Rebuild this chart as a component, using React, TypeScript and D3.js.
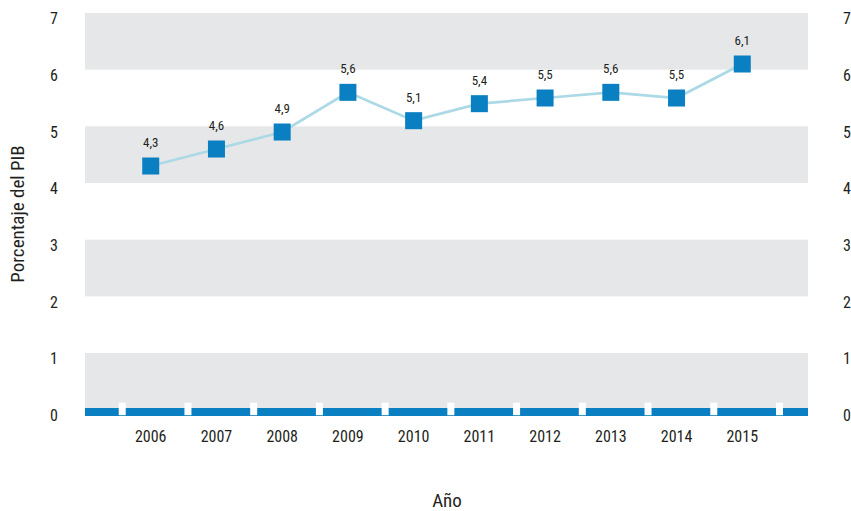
import React from "react";
import * as d3 from "d3";

const years = ["2006", "2007", "2008", "2009", "2010", "2011", "2012", "2013", "2014", "2015"];
const values = [4.3, 4.6, 4.9, 5.6, 5.1, 5.4, 5.5, 5.6, 5.5, 6.1];
const valueLabels = ["4,3", "4,6", "4,9", "5,6", "5,1", "5,4", "5,5", "5,6", "5,5", "6,1"];
const yTicks = [0, 1, 2, 3, 4, 5, 6, 7];
const bands: [number, number][] = [[0, 1], [2, 3], [4, 5], [6, 7]];

const W = 851;
const H = 511;
const FONT = "'Liberation Sans Narrow', 'Roboto Condensed', 'DejaVu Sans Condensed', sans-serif";

export default function App() {
  const left = 85;
  const right = 808;
  const y = d3.scaleLinear().domain([0, 7]).range([409.7, 13]);
  const x = d3.scaleLinear().domain([0, years.length + 1]).range([left, right]);
  const step = x(1) - x(0);
  const cx = (i: number) => x(i + 1);

  const line = d3
    .line<number>()
    .x((_, i) => cx(i))
    .y((d) => y(d));

  const seps = d3.range(years.length + 1).map((i) => x(i + 1) - 28.5);
  const ms = 17;

  return (
    <svg
      width={W}
      height={H}
      style={{ position: "absolute", left: 0, top: 0, background: "#fff" }}
      fontFamily={FONT}
    >
      {bands.map(([a, b], i) => (
        <rect key={i} x={left} y={y(b)} width={right - left} height={y(a) - y(b)} fill="#e6e7e8" />
      ))}
      <rect x={left} y={y(0) - 1.7} width={right - left} height={8} fill="#0a7fc1" />
      {seps.map((sx, i) => (
        <rect key={i} x={sx - 3.5} y={y(0) - 7} width={7} height={12.5} fill="#ffffff" />
      ))}
      {yTicks.map((t) => (
        <g key={t}>
          <text x={58} y={y(t) + 7} fontSize={16} textAnchor="end" dominantBaseline="middle" fill="#231f20">
            {t}
          </text>
          <text x={843} y={y(t) + 7} fontSize={16} textAnchor="start" dominantBaseline="middle" fill="#231f20">
            {t}
          </text>
        </g>
      ))}
      {years.map((yr, i) => (
        <text key={yr} x={cx(i)} y={442} fontSize={16} textAnchor="middle" fill="#231f20">
          {yr}
        </text>
      ))}
      <path d={line(values) || ""} fill="none" stroke="#acd9e6" strokeWidth={2.7} />
      {values.map((v, i) => (
        <g key={i}>
          <rect x={cx(i) - ms / 2} y={y(v) - ms / 2} width={ms} height={ms} fill="#0a7fc1" />
          <text x={cx(i)} y={y(v) - 19} fontSize={13} textAnchor="middle" fill="#231f20">
            {valueLabels[i]}
          </text>
        </g>
      ))}
      <text
        transform={`translate(24, 214) rotate(-90)`}
        fontSize={19}
        textAnchor="middle"
        fill="#231f20"
      >
        Porcentaje del PIB
      </text>
      <text x={447} y={507} fontSize={19} textAnchor="middle" fill="#231f20">
        Año
      </text>
    </svg>
  );
}
